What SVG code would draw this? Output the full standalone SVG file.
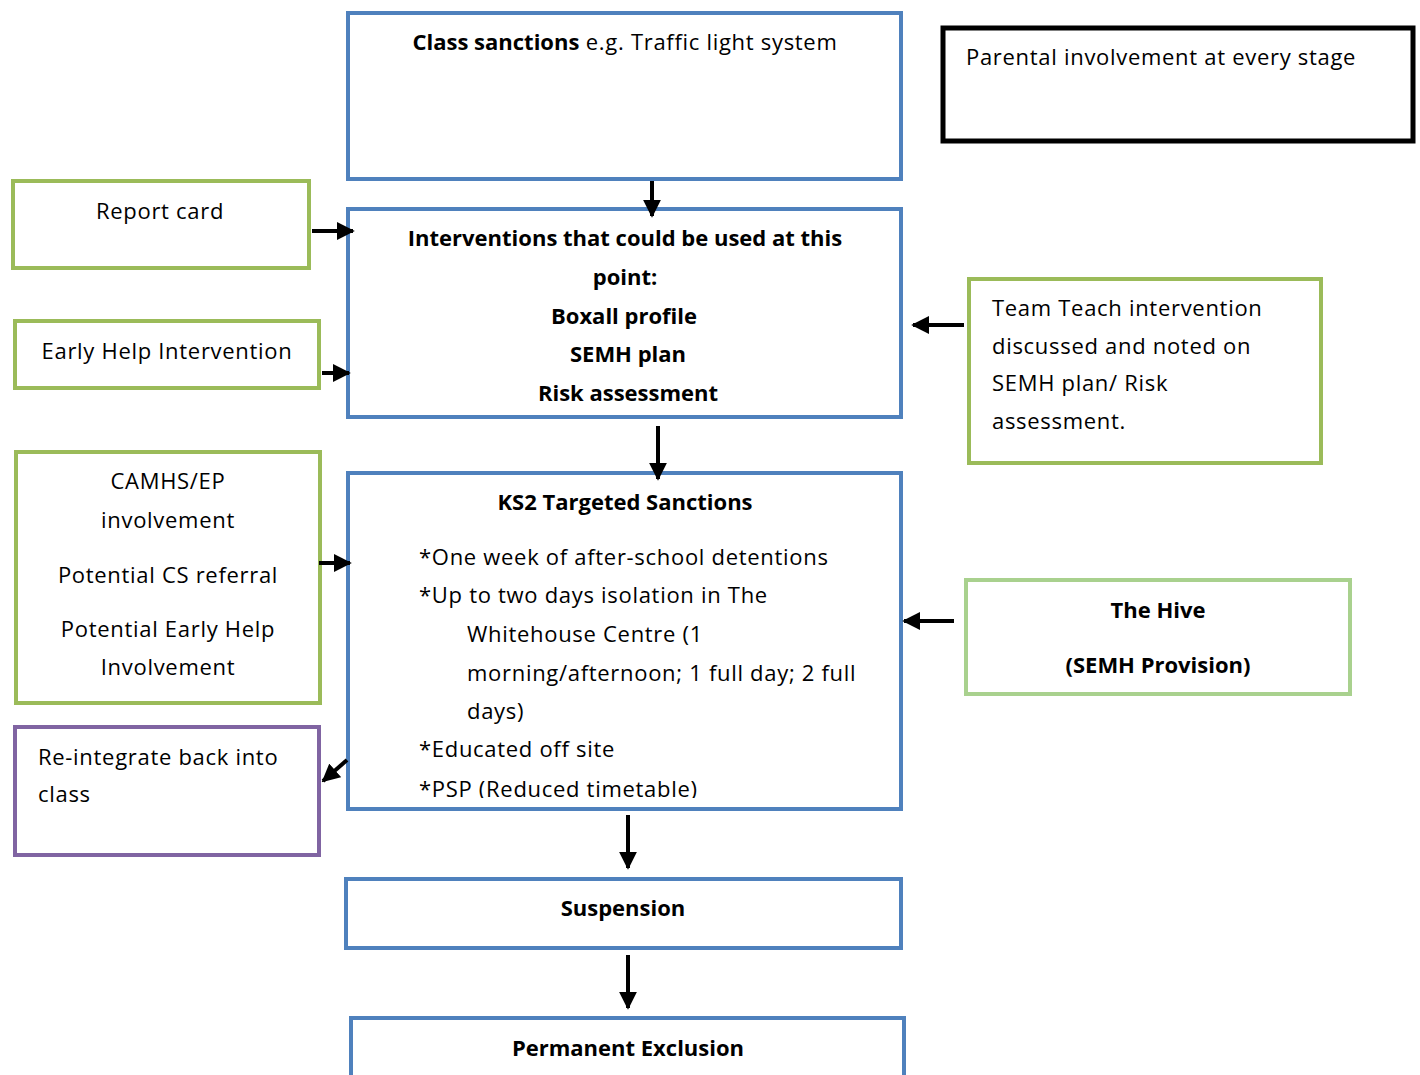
<svg xmlns="http://www.w3.org/2000/svg" width="1420" height="1075" viewBox="0 0 1420 1075">
<style>
.t{font-family:"Open Sans","Liberation Sans",sans-serif;font-size:22px;fill:#000;letter-spacing:0.7px}
.b{font-weight:bold;letter-spacing:0}
.c{text-anchor:middle}
.blue{fill:#fff;stroke:#4f81bd;stroke-width:4}
.green{fill:#fff;stroke:#9bbb59;stroke-width:4}
.lgreen{fill:#fff;stroke:#a9d18e;stroke-width:4}
.purple{fill:#fff;stroke:#8064a2;stroke-width:4}
.black{fill:#fff;stroke:#000;stroke-width:5}
.arr{stroke:#000;stroke-width:4;fill:none;marker-end:url(#ah)}
</style>
<defs>
<marker id="ah" viewBox="0 0 10 10" refX="9" refY="5" markerWidth="4.5" markerHeight="4.5" markerUnits="strokeWidth" orient="auto">
<path d="M0,0 L10,5 L0,10 z" fill="#000"/>
</marker>
<clipPath id="ks2clip"><rect x="350" y="475" width="549" height="323"/></clipPath>
</defs>
<rect width="1420" height="1075" fill="#fff"/>
<g id="class-sanctions">
<rect class="blue" x="348" y="13" width="553" height="166"/>
<text class="t c" x="625" y="50"><tspan class="b">Class sanctions</tspan> e.g. Traffic light system</text>
</g>
<g id="parental">
<rect class="black" x="943" y="28" width="470" height="113"/>
<text class="t" x="966" y="65">Parental involvement at every stage</text>
</g>
<g id="report-card">
<rect class="green" x="13" y="181" width="296" height="87"/>
<text class="t c" x="160" y="219">Report card</text>
</g>
<g id="early-help">
<rect class="green" x="15" y="321" width="304" height="67"/>
<text class="t c" x="167" y="359">Early Help Intervention</text>
</g>
<g id="interventions">
<rect class="blue" x="348" y="209" width="553" height="208"/>
<text class="t b c" x="625" y="246">Interventions that could be used at this</text>
<text class="t b c" x="625" y="285">point:</text>
<text class="t b c" x="624" y="324">Boxall profile</text>
<text class="t b c" x="628" y="362">SEMH plan</text>
<text class="t b c" x="628" y="401">Risk assessment</text>
</g>
<g id="team-teach">
<rect class="green" x="969" y="279" width="352" height="184"/>
<text class="t" x="992" y="316">Team Teach intervention</text>
<text class="t" x="992" y="354">discussed and noted on</text>
<text class="t" x="992" y="391">SEMH plan/ Risk</text>
<text class="t" x="992" y="429">assessment.</text>
</g>
<g id="camhs">
<rect class="green" x="16" y="452" width="304" height="251"/>
<text class="t c" x="168" y="489">CAMHS/EP</text>
<text class="t c" x="168" y="528">involvement</text>
<text class="t c" x="168" y="583">Potential CS referral</text>
<text class="t c" x="168" y="637">Potential Early Help</text>
<text class="t c" x="168" y="675">Involvement</text>
</g>
<g id="ks2">
<rect class="blue" x="348" y="473" width="553" height="336"/>
<text class="t b c" x="625" y="510">KS2 Targeted Sanctions</text>
<g clip-path="url(#ks2clip)">
<text class="t" x="419" y="565">*One week of after-school detentions</text>
<text class="t" x="419" y="603">*Up to two days isolation in The</text>
<text class="t" x="467" y="642">Whitehouse Centre (1</text>
<text class="t" x="467" y="681">morning/afternoon; 1 full day; 2 full</text>
<text class="t" x="467" y="719">days)</text>
<text class="t" x="419" y="757">*Educated off site</text>
<text class="t" x="419" y="797">*PSP (Reduced timetable)</text>
</g>
</g>
<g id="the-hive">
<rect class="lgreen" x="966" y="580" width="384" height="114"/>
<text class="t b c" x="1158" y="618">The Hive</text>
<text class="t b c" x="1158" y="673">(SEMH Provision)</text>
</g>
<g id="reintegrate">
<rect class="purple" x="15" y="727" width="304" height="128"/>
<text class="t" x="38" y="765">Re-integrate back into</text>
<text class="t" x="38" y="802">class</text>
</g>
<g id="suspension">
<rect class="blue" x="346" y="879" width="555" height="69"/>
<text class="t b c" x="623" y="916">Suspension</text>
</g>
<g id="permanent-exclusion">
<rect class="blue" x="351" y="1018" width="553" height="80"/>
<text class="t b c" x="628" y="1056">Permanent Exclusion</text>
</g>
<g id="connectors">
<line class="arr" x1="652" y1="181" x2="652" y2="216"/>
<line class="arr" x1="312" y1="231" x2="353" y2="231"/>
<line class="arr" x1="322" y1="373" x2="349" y2="373"/>
<line class="arr" x1="964" y1="325" x2="913" y2="325"/>
<line class="arr" x1="658" y1="426" x2="658" y2="479"/>
<line class="arr" x1="319" y1="563" x2="350" y2="563"/>
<line class="arr" x1="954" y1="621" x2="904" y2="621"/>
<line class="arr" x1="347" y1="760" x2="323" y2="781"/>
<line class="arr" x1="628" y1="815" x2="628" y2="868"/>
<line class="arr" x1="628" y1="955" x2="628" y2="1008"/>
</g>
</svg>
